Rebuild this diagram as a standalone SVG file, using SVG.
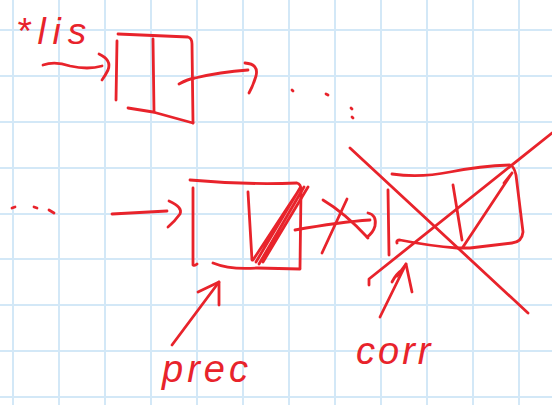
<svg xmlns="http://www.w3.org/2000/svg" width="552" height="405" viewBox="0 0 552 405">
<style>
.grid line{stroke:#d3e8f7;stroke-width:2}
.ink{fill:none;stroke:#e8232b;stroke-width:2.8;stroke-linecap:round;stroke-linejoin:round}
.lbl{fill:#e8232b;font-family:"Liberation Sans","DejaVu Sans",sans-serif;font-style:italic}
</style>
<rect width="552" height="405" fill="#ffffff"/>
<g class="grid" id="grid">
<line x1="13" y1="0" x2="13" y2="405"/><line x1="59" y1="0" x2="59" y2="405"/><line x1="105" y1="0" x2="105" y2="405"/><line x1="151" y1="0" x2="151" y2="405"/><line x1="197" y1="0" x2="197" y2="405"/><line x1="243" y1="0" x2="243" y2="405"/><line x1="289" y1="0" x2="289" y2="405"/><line x1="335" y1="0" x2="335" y2="405"/><line x1="381" y1="0" x2="381" y2="405"/><line x1="427" y1="0" x2="427" y2="405"/><line x1="473" y1="0" x2="473" y2="405"/><line x1="519" y1="0" x2="519" y2="405"/>
<line x1="0" y1="30" x2="552" y2="30"/><line x1="0" y1="76" x2="552" y2="76"/><line x1="0" y1="122" x2="552" y2="122"/><line x1="0" y1="168" x2="552" y2="168"/><line x1="0" y1="214" x2="552" y2="214"/><line x1="0" y1="259" x2="552" y2="259"/><line x1="0" y1="305" x2="552" y2="305"/><line x1="0" y1="351" x2="552" y2="351"/><line x1="0" y1="397" x2="552" y2="397"/>
</g>
<g id="label-lis"><text class="lbl" x="16" y="44" font-size="37" letter-spacing="7">*lis</text></g>
<g id="label-prec"><text class="lbl" x="162" y="382" font-size="38" letter-spacing="4">prec</text></g>
<g id="label-corr"><text class="lbl" x="356" y="364" font-size="38" letter-spacing="3">corr</text></g>
<g id="node-lis-box">
<path class="ink" d="M117 41 L116 100"/>
<path class="ink" d="M118 34 L188 37 Q192 38 192 44 L193 123"/>
<path class="ink" d="M128 108 L153 112 L193 123"/>
<path class="ink" d="M153 39 L154 112"/>
</g>
<g id="node-prec-box">
<path class="ink" d="M193 188 L193 265 Q195 266 197 264"/>
<path class="ink" d="M190 180 Q245 185 297 183 Q301 184 301 190 L300 268"/>
<path class="ink" d="M213 263 Q230 270 257 268 L300 269"/>
<path class="ink" d="M248 192 L252 260"/>
<path class="ink" d="M253 260 L297 193 M256 262 L300 188 M259 264 L304 187 M263 262 L308 187"/>
</g>
<g id="node-corr-box">
<path class="ink" d="M388 190 L389 255"/>
<path class="ink" d="M392 174 Q420 178 450 172 Q480 166 510 165 Q514 166 516 175 L523 232 Q522 242 512 243 L470 248 L457 248 Q430 246 400 240 Q396 240 397 243"/>
<path class="ink" d="M453 185 L462 240"/>
<path class="ink" d="M463 247 L512 173 M504 183 L512 173"/>
<path class="ink" d="M350 148 L528 313"/>
<path class="ink" d="M369 285 L369 279 L552 133"/>
</g>
<g id="connectors">
<path class="ink" d="M43 65 Q55 61 70 66 Q88 70 102 66"/>
<path class="ink" d="M99 54 Q112 60 108 70 Q105 76 102 80"/>
<path class="ink" d="M179 84 Q188 79 195 78 Q220 72 248 70"/>
<path class="ink" d="M245 63 Q259 64 256 76 Q253 86 249 93"/>
<path class="ink" d="M292 90 L293 91 M326 94 L328 95 M351 108 L352 109 M352 117 L353 118"/>
<path class="ink" d="M12 208 L15 207 M34 207 L37 208 M49 210 L54 213"/>
<path class="ink" d="M112 214 L167 211"/>
<path class="ink" d="M169 201 Q183 207 180 214 Q175 221 168 227"/>
<path class="ink" d="M295 230 Q340 222 370 220"/>
<path class="ink" d="M368 213 Q377 215 375 226 Q373 233 367 237"/>
<path class="ink" d="M323 200 Q345 213 368 238"/>
<path class="ink" d="M347 199 Q335 225 322 253"/>
<path class="ink" d="M172 345 L219 282"/>
<path class="ink" d="M198 292 L219 282 L219 305"/>
<path class="ink" d="M380 317 L406 264"/>
<path class="ink" d="M392 282 Q396 274 402 270 Q404 268 397 276 L406 264 L412 292"/>
</g>
</svg>
